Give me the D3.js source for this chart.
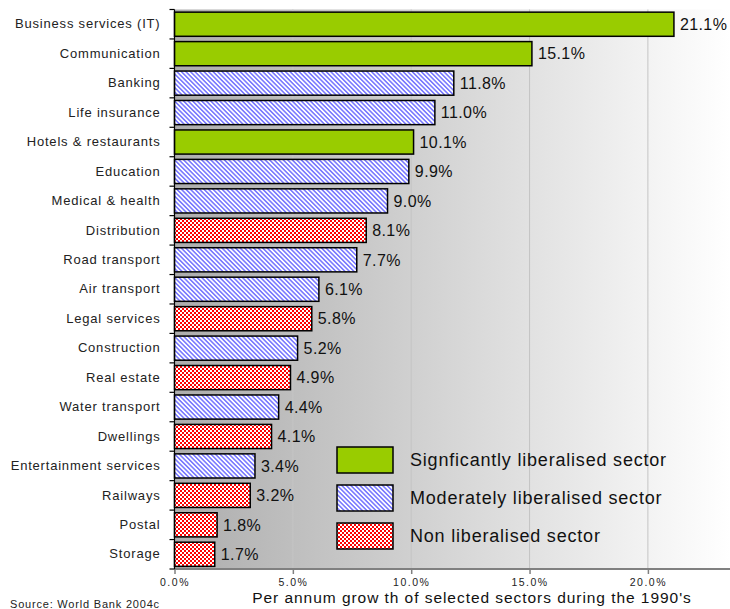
<!DOCTYPE html>
<html>
<head>
<meta charset="utf-8">
<script src="https://cdn.jsdelivr.net/npm/d3@7"></script>
<style>
  html, body { margin: 0; padding: 0; background: #fff; }
  svg { display: block; font-family: "Liberation Sans", Arial, sans-serif; }
</style>
</head>
<body>
<svg id="chart" width="730" height="609"></svg>
<script>
const categories = ["Business services (IT)", "Communication", "Banking", "Life insurance",
  "Hotels & restaurants", "Education", "Medical & health", "Distribution", "Road transport",
  "Air transport", "Legal services", "Construction", "Real estate", "Water transport",
  "Dwellings", "Entertainment services", "Railways", "Postal", "Storage"];
const values = [21.1, 15.1, 11.8, 11.0, 10.1, 9.9, 9.0, 8.1, 7.7, 6.1, 5.8, 5.2, 4.9, 4.4, 4.1, 3.4, 3.2, 1.8, 1.7];
const sectorType = ["sig", "sig", "mod", "mod", "sig", "mod", "mod", "non", "mod", "mod", "non",
  "mod", "non", "mod", "non", "mod", "non", "non", "non"];
const legendKeys = ["sig", "mod", "non"];
const legendLabels = ["Signficantly liberalised sector", "Moderately liberalised sector", "Non liberalised sector"];
const xTicks = [0, 5, 10, 15, 20];
const xTitle = "Per annum grow th of selected sectors during the 1990's";
const sourceText = "Source: World Bank 2004c";

const svg = d3.select("#chart");
const W = 730;
const pLeft = 174.5, pTop = 9.5, pBottom = 569;

const x = d3.scaleLinear().domain([0, 25]).range([pLeft, pLeft + 25 * 23.67]);
const y = d3.scaleBand().domain(categories).range([pTop, pBottom]).paddingInner(0.18).paddingOuter(0.09);

const defs = svg.append("defs");
const grad = defs.append("linearGradient").attr("id", "bg").attr("gradientUnits", "userSpaceOnUse")
  .attr("x1", pLeft).attr("x2", W).attr("y1", 0).attr("y2", 0);
grad.append("stop").attr("offset", 0).attr("stop-color", "#adadad");
grad.append("stop").attr("offset", 1).attr("stop-color", "#ffffff");

const pm = defs.append("pattern").attr("id", "pat-mod").attr("patternUnits", "userSpaceOnUse")
  .attr("width", 3.2).attr("height", 3.2).attr("patternTransform", "rotate(-45)");
pm.append("rect").attr("width", 3.2).attr("height", 3.2).attr("fill", "#ffffff");
pm.append("rect").attr("width", 1.6).attr("height", 3.2).attr("fill", "#7b7bff");

const pn = defs.append("pattern").attr("id", "pat-non").attr("patternUnits", "userSpaceOnUse")
  .attr("width", 4).attr("height", 4);
pn.append("rect").attr("width", 4).attr("height", 4).attr("fill", "#ff0000");
pn.append("rect").attr("width", 2).attr("height", 2).attr("fill", "#ffffff");
pn.append("rect").attr("x", 2).attr("y", 2).attr("width", 2).attr("height", 2).attr("fill", "#ffffff");

const fills = { sig: "#99cc00", mod: "url(#pat-mod)", non: "url(#pat-non)" };

// background
svg.append("rect").attr("x", pLeft).attr("y", pTop).attr("width", W - pLeft).attr("height", pBottom - pTop)
  .attr("fill", "url(#bg)");

// gridlines
svg.append("g").selectAll("line").data(xTicks.filter(d => d > 0)).join("line")
  .attr("x1", d => x(d)).attr("x2", d => x(d)).attr("y1", pTop).attr("y2", pBottom)
  .attr("stroke", "#c4c4c4").attr("stroke-width", 1);

// bars
svg.append("g").selectAll("rect").data(categories).join("rect")
  .attr("x", x(0)).attr("y", d => y(d))
  .attr("width", (d, i) => x(values[i]) - x(0)).attr("height", y.bandwidth())
  .attr("fill", (d, i) => fills[sectorType[i]])
  .attr("stroke", "#000").attr("stroke-width", 1.5);

// value labels
svg.append("g").selectAll("text").data(categories).join("text")
  .attr("x", (d, i) => x(values[i]) + 6)
  .attr("y", d => y(d) + y.bandwidth() / 2)
  .attr("dy", "0.36em")
  .attr("font-size", 16).attr("letter-spacing", 0.4).attr("fill", "#111")
  .text((d, i) => values[i].toFixed(1) + "%");

// x axis
const xAxis = svg.append("g").attr("transform", `translate(0,${pBottom})`)
  .call(d3.axisBottom(x).tickValues(xTicks).tickSize(5).tickFormat(d => d.toFixed(1) + "%"));
xAxis.select(".domain").attr("d", `M${pLeft},0H${W}`).attr("stroke", "#808080").attr("stroke-width", 2);
xAxis.selectAll(".tick line").attr("stroke", "#808080").attr("stroke-width", 1.5);
xAxis.selectAll(".tick text").attr("font-family", "Liberation Sans, Arial, sans-serif")
  .attr("font-size", 10.5).attr("letter-spacing", 1.5).attr("fill", "#222").attr("y", 10);

// y axis
const yAxis = svg.append("g").attr("transform", `translate(${pLeft},0)`)
  .call(d3.axisLeft(y).tickSize(0).tickPadding(14));
yAxis.select(".domain").attr("d", `M0,${pTop}V${pBottom}`).attr("stroke", "#000").attr("stroke-width", 1.2);
yAxis.selectAll(".tick text").attr("font-family", "Liberation Sans, Arial, sans-serif")
  .attr("font-size", 13).attr("letter-spacing", 0.8).attr("fill", "#222");
const boundaries = categories.map(c => y(c) - y.step() * 0.09).concat([pBottom]);
svg.append("g").selectAll("line").data(boundaries).join("line")
  .attr("x1", pLeft - 5).attr("x2", pLeft).attr("y1", d => d).attr("y2", d => d)
  .attr("stroke", "#000").attr("stroke-width", 1.2);

// legend
const lg = svg.append("g");
const legY = d3.scalePoint().domain(legendKeys).range([460, 536]);
lg.selectAll("rect").data(legendKeys).join("rect")
  .attr("x", 337).attr("y", d => legY(d) - 13).attr("width", 56).attr("height", 26)
  .attr("fill", d => fills[d]).attr("stroke", "#000").attr("stroke-width", 1.5);
lg.selectAll("text").data(legendKeys).join("text")
  .attr("x", 410).attr("y", d => legY(d)).attr("dy", "0.36em")
  .attr("font-size", 18).attr("letter-spacing", 0.8).attr("fill", "#111")
  .text((d, i) => legendLabels[i]);

// axis title
svg.append("text").attr("x", 472).attr("y", 603).attr("text-anchor", "middle")
  .attr("font-size", 15.5).attr("letter-spacing", 0.95).attr("fill", "#111").text(xTitle);

// source
svg.append("text").attr("x", 10).attr("y", 607.5).attr("font-size", 11).attr("letter-spacing", 0.8)
  .attr("fill", "#222").text(sourceText);
</script>
</body>
</html>
